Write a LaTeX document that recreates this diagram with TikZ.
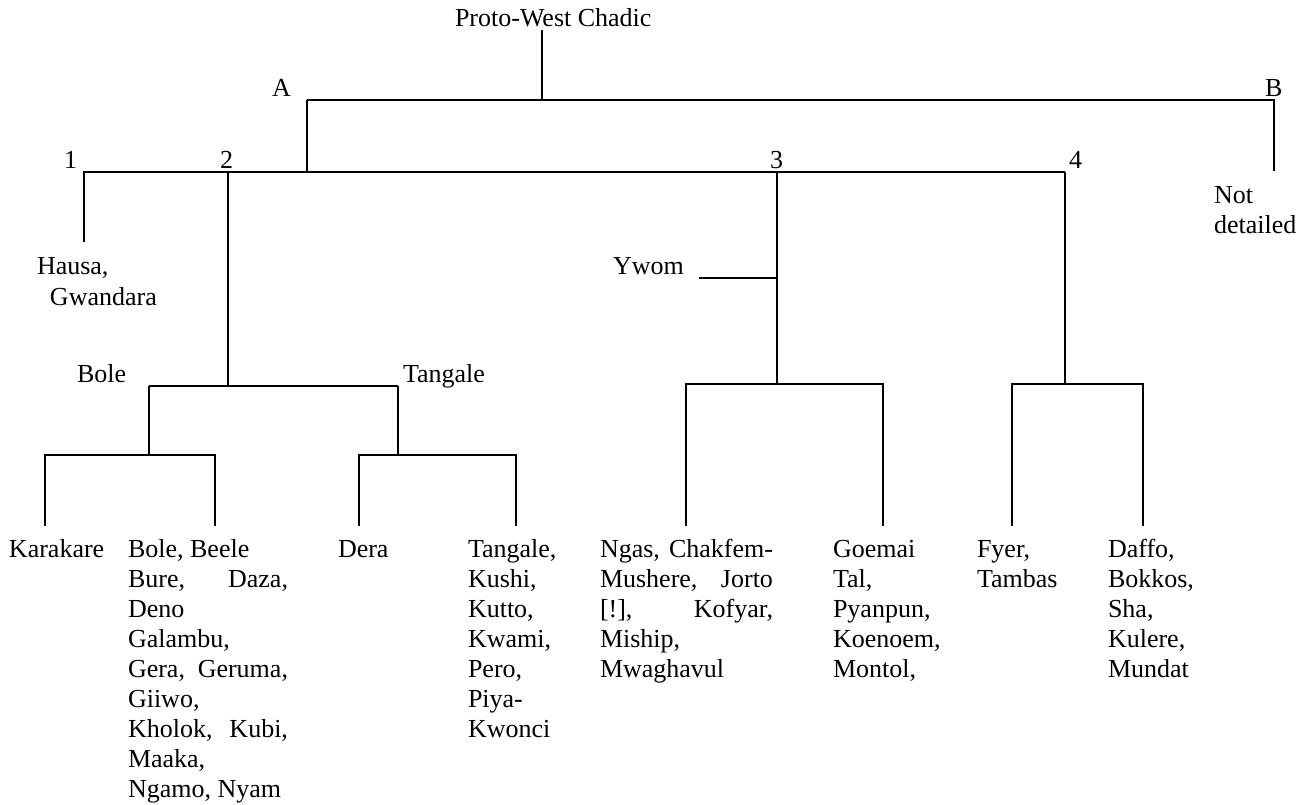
\documentclass[tikz,border=0pt]{standalone}
\usepackage{fontspec}
\setmainfont{Liberation Serif}
\newcommand{\leaflist}[2]{\parbox[t]{#1}{\fontsize{26}{30}\selectfont\parindent=0pt #2}}
\begin{document}
\begin{tikzpicture}[x=1pt,y=-1pt,
  branch/.style={line width=1.7pt},
  lbl/.style={anchor=base west,inner sep=0pt,outer sep=0pt,font=\fontsize{26}{30}\selectfont}]
\fill[white] (0,0) rectangle (1310,805);
\useasboundingbox (0,0) rectangle (1310,805);

% junction points
\coordinate (root) at (542,30);
\coordinate (ab) at (542,100);
\coordinate (a) at (307,100);
\coordinate (b) at (1274,100);
\coordinate (bend) at (1274,171);
\coordinate (a1) at (307,172);
\coordinate (g1) at (84,172);
\coordinate (g1end) at (84,242);
\coordinate (g2) at (228,172);
\coordinate (g3) at (777,172);
\coordinate (g4) at (1065,172);
\coordinate (g2low) at (228,386);
\coordinate (bole) at (149,386);
\coordinate (tang) at (398,386);
\coordinate (bolelow) at (149,455);
\coordinate (bl) at (45,455);
\coordinate (br) at (215,455);
\coordinate (blend) at (45,526);
\coordinate (brend) at (215,526);
\coordinate (tanglow) at (398,455);
\coordinate (tl) at (359,455);
\coordinate (tr) at (516,455);
\coordinate (tlend) at (359,526);
\coordinate (trend) at (516,526);
\coordinate (ywomj) at (777,278);
\coordinate (ywomend) at (699,278);
\coordinate (g3low) at (777,384);
\coordinate (nl) at (686,384);
\coordinate (nr) at (883,384);
\coordinate (nlend) at (686,526);
\coordinate (nrend) at (883,526);
\coordinate (g4low) at (1065,384);
\coordinate (fl) at (1012,384);
\coordinate (fr) at (1143,384);
\coordinate (flend) at (1012,526);
\coordinate (frend) at (1143,526);

% branches
\draw[branch] (root) -- (ab);
\draw[branch] (a) -- (b) -- (bend);
\draw[branch] (a) -- (a1);
\draw[branch] (g1end) -- (g1) -- (g4);
\draw[branch] (g2) -- (g2low);
\draw[branch] (bole) -- (tang);
\draw[branch] (bole) -- (bolelow);
\draw[branch] (blend) -- (bl) -- (br) -- (brend);
\draw[branch] (tang) -- (tanglow);
\draw[branch] (tlend) -- (tl) -- (tr) -- (trend);
\draw[branch] (g3) -- (g3low);
\draw[branch] (ywomend) -- (ywomj);
\draw[branch] (nlend) -- (nl) -- (nr) -- (nrend);
\draw[branch] (g4) -- (g4low);
\draw[branch] (flend) -- (fl) -- (fr) -- (frend);

% labels on the branches
\node[lbl] (tproto) at (455,27) {Proto-West Chadic};
\node[lbl] (ta) at (272,97) {A};
\node[lbl] (tb) at (1265,97) {B};
\node[lbl] (t1) at (64,169) {1};
\node[lbl] (t2) at (220,169) {2};
\node[lbl] (t3) at (770,169) {3};
\node[lbl] (t4) at (1069,169) {4};
\node[lbl] (tbole) at (77,382) {Bole};
\node[lbl] (ttang) at (403,382) {Tangale};
\node[lbl] (tywom) at (613,275) {Ywom};
\node[lbl] (tnot) at (1214,204) {\leaflist{100pt}{Not\\detailed}};
\node[lbl] (thausa) at (37,275) {\parbox[t]{150pt}{\fontsize{26}{31}\selectfont\parindent=0pt Hausa,\\\hspace*{13pt}Gwandara}};

% languages at the leaves
\node[lbl] (lkarakare) at (9,557) {Karakare};
\node[lbl] (lbole) at (128,557) {\leaflist{160pt}{%
  Bole, Beele\\
  Bure,\hfill Daza,\\
  Deno\\
  Galambu,\\
  Gera,\hfill Geruma,\\
  Giiwo,\\
  Kholok,\hfill Kubi,\\
  Maaka,\\
  Ngamo, Nyam}};
\node[lbl] (ldera) at (338,557) {Dera};
\node[lbl] (ltangale) at (468,557) {\leaflist{100pt}{%
  Tangale,\\
  Kushi,\\
  Kutto,\\
  Kwami,\\
  Pero,\\
  Piya-\\
  Kwonci}};
\node[lbl] (lngas) at (600,557) {\leaflist{173pt}{%
  Ngas,\hfill Chakfem-\\
  Mushere,\hfill Jorto\\
  {[!]},\hfill Kofyar,\\
  Miship,\\
  Mwaghavul}};
\node[lbl] (lgoemai) at (833,557) {\leaflist{120pt}{%
  Goemai\\
  Tal,\\
  Pyanpun,\\
  Koenoem,\\
  Montol,}};
\node[lbl] (lfyer) at (977,557) {\leaflist{100pt}{%
  Fyer,\\
  Tambas}};
\node[lbl] (ldaffo) at (1108,557) {\leaflist{100pt}{%
  Daffo,\\
  Bokkos,\\
  Sha,\\
  Kulere,\\
  Mundat}};
\end{tikzpicture}
\end{document}
